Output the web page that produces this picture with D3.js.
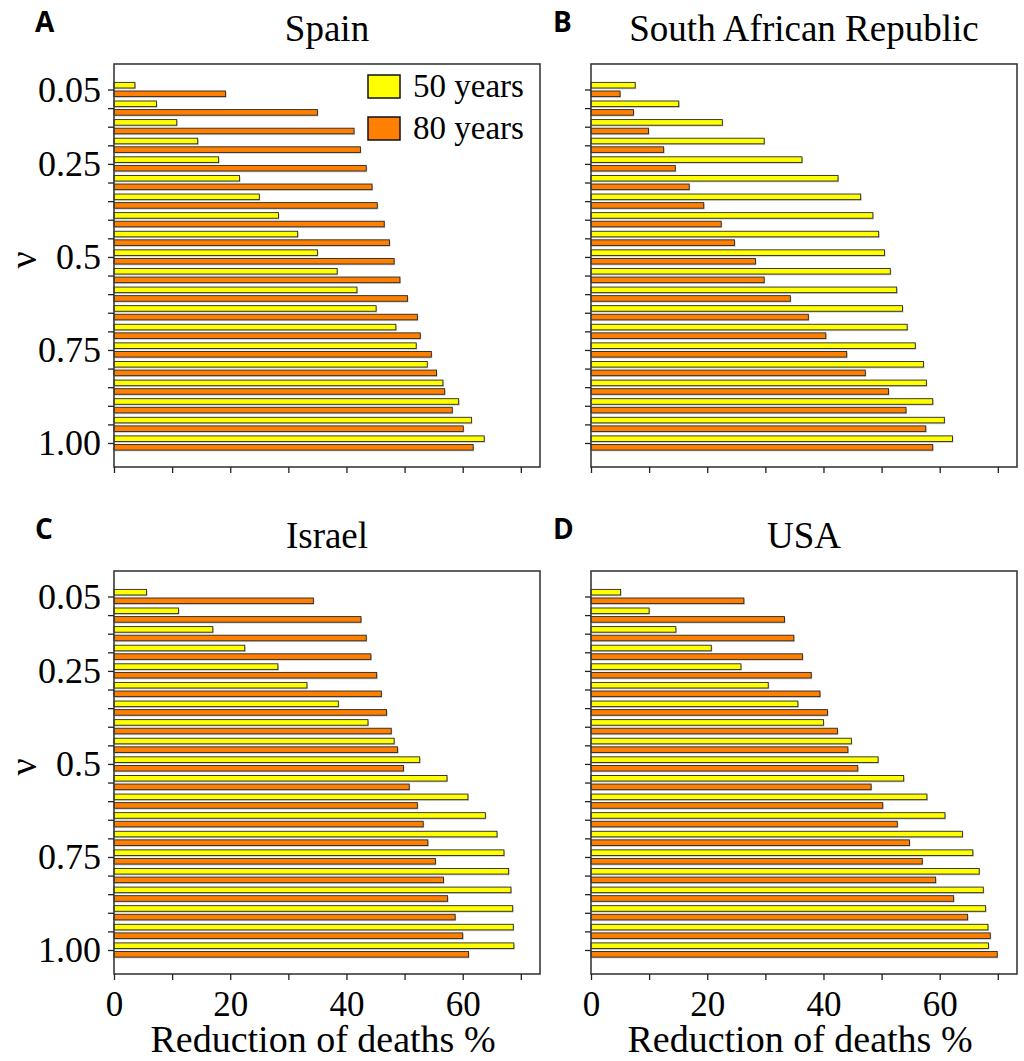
<!DOCTYPE html>
<html>
<head>
<meta charset="utf-8">
<script src="https://cdn.jsdelivr.net/npm/d3@7/dist/d3.min.js"></script>
<style>
  html, body { margin: 0; padding: 0; background: #fff; }
  svg { display: block; }
  text { font-family: "Liberation Serif", "Times New Roman", serif; fill: #000; }
  .letter { font-family: "Open Sans", "Liberation Sans", sans-serif; font-weight: 700; }
</style>
</head>
<body>
<svg id="chart" width="1024" height="1061"></svg>
<script>
// ---- data ----
const nu = [0.05, 0.10, 0.15, 0.20, 0.25, 0.30, 0.35, 0.40, 0.45, 0.50,
            0.55, 0.60, 0.65, 0.70, 0.75, 0.80, 0.85, 0.90, 0.95, 1.00];
const seriesNames = ["50 years", "80 years"];

const spain50 = [3.6, 7.3, 10.8, 14.4, 18.0, 21.6, 25.0, 28.3, 31.6, 35.0,
                 38.4, 41.8, 45.1, 48.5, 52.0, 53.9, 56.6, 59.3, 61.5, 63.7];
const spain80 = [19.2, 35.0, 41.3, 42.4, 43.4, 44.4, 45.3, 46.5, 47.4, 48.2,
                 49.2, 50.5, 52.2, 52.7, 54.6, 55.5, 56.9, 58.2, 60.1, 61.8];

const sar50 = [7.6, 15.1, 22.6, 29.8, 36.3, 42.5, 46.4, 48.5, 49.5, 50.5,
               51.5, 52.6, 53.6, 54.4, 55.8, 57.2, 57.7, 58.8, 60.8, 62.2];
const sar80 = [5.0, 7.3, 9.9, 12.5, 14.5, 16.9, 19.4, 22.4, 24.7, 28.3,
               29.8, 34.3, 37.4, 40.4, 44.0, 47.2, 51.2, 54.2, 57.6, 58.8];

const israel50 = [5.6, 11.1, 17.0, 22.5, 28.2, 33.2, 38.6, 43.7, 48.2, 52.6,
                  57.3, 60.9, 63.9, 65.9, 67.1, 67.9, 68.3, 68.6, 68.7, 68.8];
const israel80 = [34.3, 42.5, 43.4, 44.2, 45.2, 46.0, 46.9, 47.7, 48.8, 49.8,
                  50.8, 52.2, 53.2, 54.0, 55.3, 56.7, 57.4, 58.7, 60.0, 61.0];

const usa50 = [5.1, 10.0, 14.6, 20.7, 25.8, 30.5, 35.6, 40.0, 44.8, 49.4,
               53.8, 57.8, 60.9, 63.9, 65.7, 66.8, 67.5, 67.9, 68.3, 68.4];
const usa80 = [26.3, 33.3, 34.9, 36.4, 37.9, 39.4, 40.7, 42.4, 44.2, 45.9,
               48.2, 50.2, 52.7, 54.8, 57.0, 59.3, 62.4, 64.8, 68.7, 69.9];

const yTickLabelValues = [0.05, 0.25, 0.50, 0.75, 1.00];
const yTickLabels = ["0.05", "0.25", "0.5", "0.75", "1.00"];
const xTickValues = [0, 10, 20, 30, 40, 50, 60, 70];
const xTickLabelValues = [0, 20, 40, 60];
const titles = ["Spain", "South African Republic", "Israel", "USA"];
const letters = ["A", "B", "C", "D"];
const xLabel = "Reduction of deaths %";
const yLabel = "\u03BD";

// ---- layout ----
const colors = ["#ffff00", "#ff8000"];
const W = 426, H = 403;
const panels = [
  {x: 114, y: 64,  d: [spain50, spain80],   ylab: true,  xlab: false, legend: true},
  {x: 591, y: 64,  d: [sar50, sar80],       ylab: false, xlab: false, legend: false},
  {x: 114, y: 571, d: [israel50, israel80], ylab: true,  xlab: true,  legend: false},
  {x: 591, y: 571, d: [usa50, usa80],       ylab: false, xlab: true,  legend: false}
];

const svg = d3.select("#chart");
const x = d3.scaleLinear().domain([0, 73.3]).range([0, W]);
const y = d3.scaleLinear().domain([-0.0185, 1.0645]).range([0, H]);
const barH = 5.6, off = 4.3;

panels.forEach((p, i) => {
  const g = svg.append("g").attr("transform", `translate(${p.x},${p.y})`);

  // bars
  p.d.forEach((vals, s) => {
    const cy = v => y(v) + (s === 0 ? -off : off);
    g.append("g").selectAll("rect").data(vals).join("rect")
      .attr("x", 1).attr("y", (d, k) => cy(nu[k]) - barH / 2 + 1.3)
      .attr("width", d => x(d)).attr("height", barH)
      .attr("fill", "#9a9a9a").attr("opacity", 0.55);
    g.append("g").selectAll("rect").data(vals).join("rect")
      .attr("x", x(0)).attr("y", (d, k) => cy(nu[k]) - barH / 2)
      .attr("width", d => x(d)).attr("height", barH)
      .attr("fill", colors[s]).attr("stroke", "#262626").attr("stroke-width", 0.9);
  });

  // frame
  g.append("rect").attr("x", 0).attr("y", 0).attr("width", W).attr("height", H)
    .attr("fill", "none").attr("stroke", "#3a3a3a").attr("stroke-width", 1.6);

  // y axis
  const yAxis = d3.axisLeft(y).tickValues(nu).tickSize(6).tickPadding(7)
    .tickFormat(v => {
      if (!p.ylab) return "";
      const k = yTickLabelValues.findIndex(t => Math.abs(t - v) < 1e-9);
      return k >= 0 ? yTickLabels[k] : "";
    });
  const ya = g.append("g").call(yAxis);
  ya.select(".domain").remove();
  ya.selectAll(".tick line").attr("stroke", "#222").attr("stroke-width", 1.3);
  ya.selectAll(".tick text").attr("font-size", 36).attr("font-family", "Liberation Serif");

  // x axis
  const xAxis = d3.axisBottom(x).tickValues(xTickValues).tickSize(6).tickPadding(11)
    .tickFormat(v => (p.xlab && xTickLabelValues.includes(v)) ? String(v) : "");
  const xa = g.append("g").attr("transform", `translate(0,${H})`).call(xAxis);
  xa.select(".domain").remove();
  xa.selectAll(".tick line").attr("stroke", "#222").attr("stroke-width", 1.3);
  xa.selectAll(".tick text").attr("font-size", 35).attr("font-family", "Liberation Serif");

  // title
  g.append("text").attr("x", W / 2).attr("y", -23).attr("text-anchor", "middle")
    .attr("font-size", 37).text(titles[i]);

  // letter
  g.append("text").attr("class", "letter")
    .attr("x", (i % 2 === 0) ? -79 : -38).attr("y", -32)
    .attr("font-size", 28).text(letters[i]);

  // y label
  if (p.ylab) {
    g.append("text").attr("transform", `translate(-78,${196}) rotate(-90)`)
      .attr("text-anchor", "middle").attr("font-size", 38).text(yLabel);
  }
  // x label
  if (p.xlab) {
    g.append("text").attr("x", W / 2 - 4).attr("y", H + 78).attr("text-anchor", "middle")
      .attr("font-size", 38).text(xLabel);
  }

  // legend
  if (p.legend) {
    const lg = g.append("g").attr("transform", "translate(254,11)");
    seriesNames.forEach((name, s) => {
      lg.append("rect").attr("x", 0).attr("y", s * 42).attr("width", 32).attr("height", 23)
        .attr("fill", colors[s]).attr("stroke", "#111").attr("stroke-width", 1.5);
      lg.append("text").attr("x", 45).attr("y", s * 42 + 22).attr("font-size", 33).text(name);
    });
  }
});
</script>
</body>
</html>
